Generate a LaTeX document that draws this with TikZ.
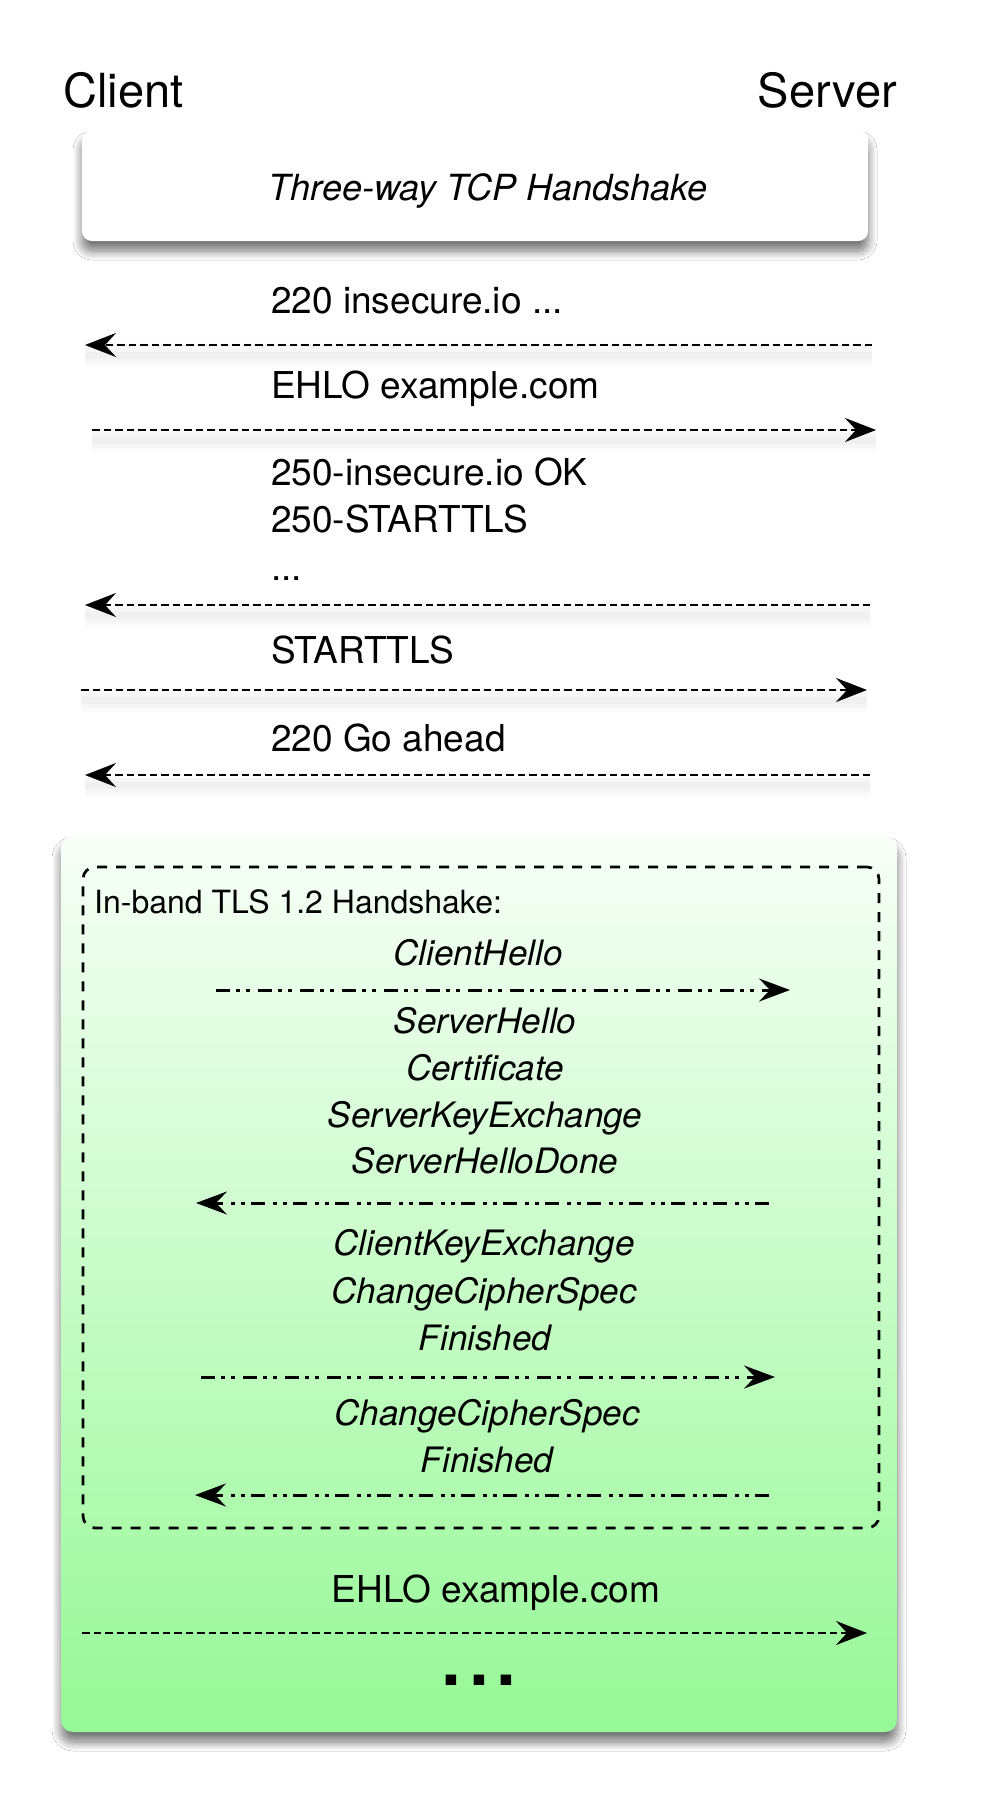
\documentclass[tikz,border=0pt]{standalone}
\usepackage{fontspec}
\setmainfont{TeX Gyre Heros}
\usetikzlibrary{arrows.meta,shadows.blur}
\definecolor{gtop}{RGB}{248,255,248}
\definecolor{gbot}{RGB}{150,248,150}
\begin{document}
\begin{tikzpicture}[x=1pt,y=-1pt,
  boxshadow/.style={blur shadow={shadow xshift=0pt, shadow yshift=-10pt, shadow opacity=55, shadow blur radius=9pt, shadow blur steps=12}},
  big/.style={inner sep=0pt, font=\fontsize{47}{56}\selectfont},
  msgtxt/.style={inner sep=0pt, anchor=base west, font=\fontsize{37}{44}\selectfont},
  tlstxt/.style={inner sep=0pt, anchor=base, font=\itshape\fontsize{35}{42}\selectfont},
  lshadow/.style={preaction={draw=black, draw opacity=0.015, line width=24pt, solid, arrows=-, transform canvas={yshift=-10pt}},
                  preaction={draw=black, draw opacity=0.02, line width=15pt, solid, arrows=-, transform canvas={yshift=-10pt}},
                  preaction={draw=black, draw opacity=0.025, line width=7pt, solid, arrows=-, transform canvas={yshift=-10pt}}},
  msgarrow/.style={line width=2.8pt, dash pattern=on 7.5pt off 4pt, -{Stealth[length=31pt,width=24pt,inset=11pt]}},
  tlsarrow/.style={line width=3pt, dash pattern=on 14pt off 6pt on 4pt off 6pt on 4pt off 8pt, -{Stealth[length=31pt,width=23pt,inset=11pt]}}
]
\useasboundingbox[fill=white] (0,0) rectangle (986,1794);

% header
\node[big, anchor=base west] (client) at (63,107) {Client};
\node[big, anchor=base east] (server) at (897,107) {Server};

% TCP handshake box
\node[fill=white, rounded corners=10pt, minimum width=786pt, minimum height=111pt, boxshadow] (tcp) at (475,185.5) {};
\node[inner sep=0pt, anchor=base, font=\itshape\fontsize{36}{43}\selectfont] (tcptxt) at (488,200) {Three-way TCP Handshake};

% plaintext SMTP exchange
\node[msgtxt] (m1) at (271,313) {220 insecure.io ...};
\coordinate (a1s) at (872,345); \coordinate (a1e) at (85,345);
\draw[msgarrow, lshadow] (a1s) -- (a1e);

\node[msgtxt] (m2) at (271,398) {EHLO example.com};
\coordinate (a2s) at (92,430); \coordinate (a2e) at (876,430);
\draw[msgarrow, lshadow] (a2s) -- (a2e);

\node[msgtxt] (m3a) at (271,485) {250-insecure.io OK};
\node[msgtxt] (m3b) at (271,532) {250-STARTTLS};
\node[msgtxt] (m3c) at (271,580) {...};
\coordinate (a3s) at (870,605); \coordinate (a3e) at (85,605);
\draw[msgarrow, lshadow] (a3s) -- (a3e);

\node[msgtxt] (m4) at (271,663) {STARTTLS};
\coordinate (a4s) at (81,690); \coordinate (a4e) at (867,690);
\draw[msgarrow, lshadow] (a4s) -- (a4e);

\node[msgtxt] (m5) at (271,751) {220 Go ahead};
\coordinate (a5s) at (870,775); \coordinate (a5e) at (85,775);
\draw[msgarrow, lshadow] (a5s) -- (a5e);

% green TLS area
\node[rounded corners=12pt, minimum width=836pt, minimum height=896pt, top color=gtop, bottom color=gbot, boxshadow] (green) at (479,1284) {};
\node[draw, line width=2.7pt, dash pattern=on 10pt off 9pt, rounded corners=12pt, minimum width=796pt, minimum height=661pt] (tlsbox) at (481,1197.5) {};
\node[inner sep=0pt, anchor=base west, font=\fontsize{32}{38}\selectfont] (inband) at (94,913) {In-band TLS 1.2 Handshake:};

\node[tlstxt] (ch) at (478,965) {ClientHello};
\coordinate (a6s) at (216,990); \coordinate (a6e) at (790,990);
\draw[tlsarrow] (a6s) -- (a6e);

\node[tlstxt] (sh) at (485,1033) {ServerHello};
\node[tlstxt] (cert) at (485,1080) {Certificate};
\node[tlstxt] (ske) at (485,1127) {ServerKeyExchange};
\node[tlstxt] (shd) at (485,1173) {ServerHelloDone};
\coordinate (a7s) at (769,1203); \coordinate (a7e) at (196,1203);
\draw[tlsarrow] (a7s) -- (a7e);

\node[tlstxt] (cke) at (484,1255) {ClientKeyExchange};
\node[tlstxt] (ccs1) at (484,1303) {ChangeCipherSpec};
\node[tlstxt] (fin1) at (485,1350) {Finished};
\coordinate (a8s) at (201,1377); \coordinate (a8e) at (775,1377);
\draw[tlsarrow] (a8s) -- (a8e);

\node[tlstxt] (ccs2) at (487,1425) {ChangeCipherSpec};
\node[tlstxt] (fin2) at (487,1472) {Finished};
\coordinate (a9s) at (769,1495); \coordinate (a9e) at (195,1495);
\draw[tlsarrow] (a9s) -- (a9e);

\node[inner sep=0pt, anchor=base, font=\fontsize{37}{44}\selectfont] (ehlo2) at (496,1602) {EHLO example.com};
\coordinate (a10s) at (82,1633); \coordinate (a10e) at (867,1633);
\draw[msgarrow] (a10s) -- (a10e);

\node[inner sep=0pt, anchor=base, font=\fontsize{100}{100}\selectfont] (dots) at (479,1685) {...};
\end{tikzpicture}
\end{document}
